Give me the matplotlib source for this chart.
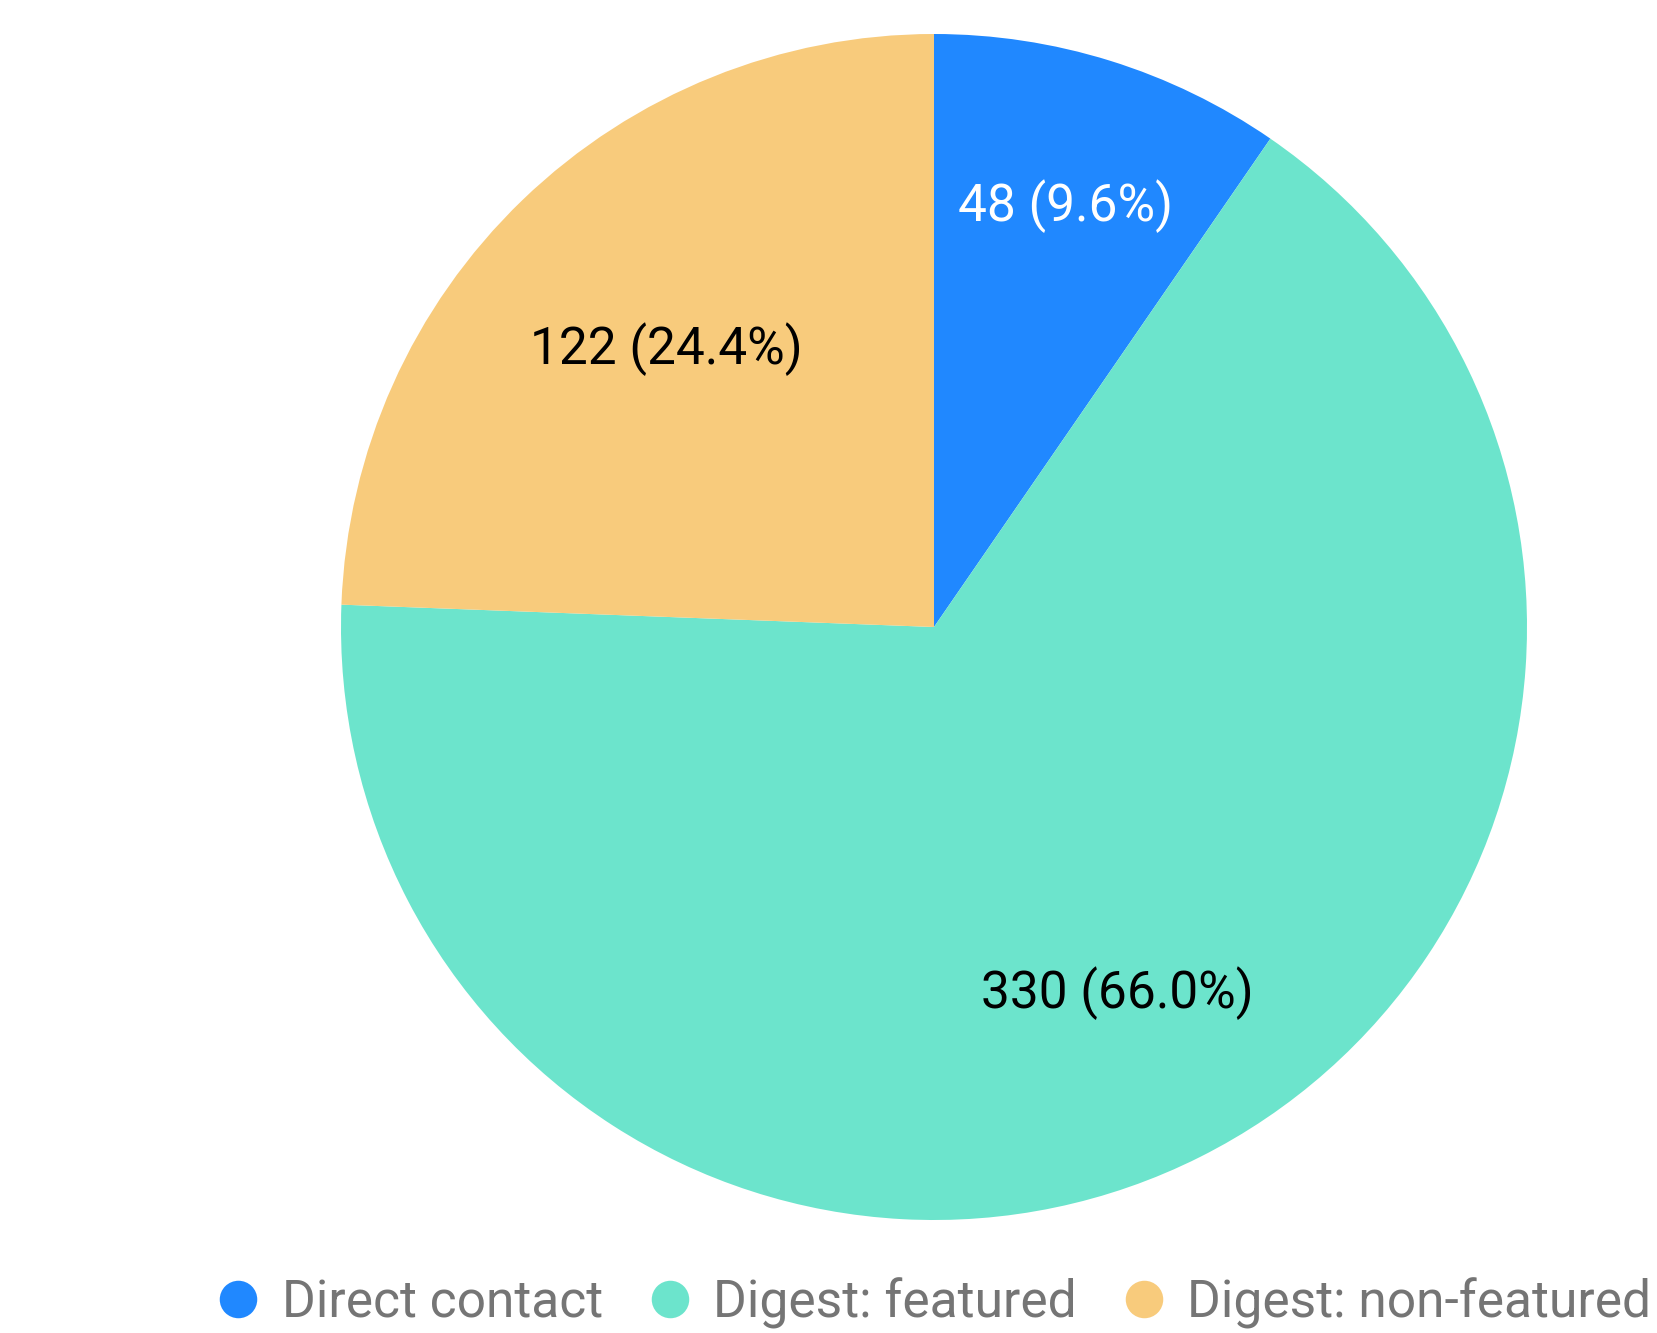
import matplotlib
matplotlib.use("Agg")
import matplotlib.pyplot as plt
import numpy as np
from matplotlib.lines import Line2D

categories = ["Direct contact", "Digest: featured", "Digest: non-featured"]
values = [48, 330, 122]
percents = [9.6, 66.0, 24.4]
colors = ["#2088FF", "#6CE4CC", "#F8CB7C"]
label_colors = ["white", "black", "black"]
label_dist = [0.744, 0.69, 0.65]

plt.rcParams['font.family'] = ['Roboto', 'DejaVu Sans']

W, H = 1658, 1333
fig = plt.figure(figsize=(W / 100, H / 100), dpi=100)
cx, cy, R = 934, 627, 593
ax = fig.add_axes([(cx - R) / W, (H - cy - R) / H, 2 * R / W, 2 * R / H])
wedges, _ = ax.pie(values, colors=colors, startangle=90, counterclock=False,
                   radius=1.0, wedgeprops=dict(linewidth=0))
ax.set_xlim(-1, 1)
ax.set_ylim(-1, 1)
ax.set_aspect('equal')
ax.axis('off')

for w, v, p, c, d in zip(wedges, values, percents, label_colors, label_dist):
    ang = np.deg2rad((w.theta1 + w.theta2) / 2)
    ax.text(d * np.cos(ang), d * np.sin(ang), f"{v} ({p:.1f}%)", color=c,
            fontsize=37, ha='center', va='center')

handles = [Line2D([0], [0], marker='o', linestyle='none', markersize=27,
                  markerfacecolor=col, markeredgewidth=0) for col in colors]
fig.legend(handles, categories, loc='center', bbox_to_anchor=(0.5605, 1 - 1303 / H),
           ncol=3, frameon=False, fontsize=37.1, labelcolor='#757575',
           handletextpad=0.24, columnspacing=0.7, handlelength=1.2)

fig.savefig("out.png", dpi=100)
